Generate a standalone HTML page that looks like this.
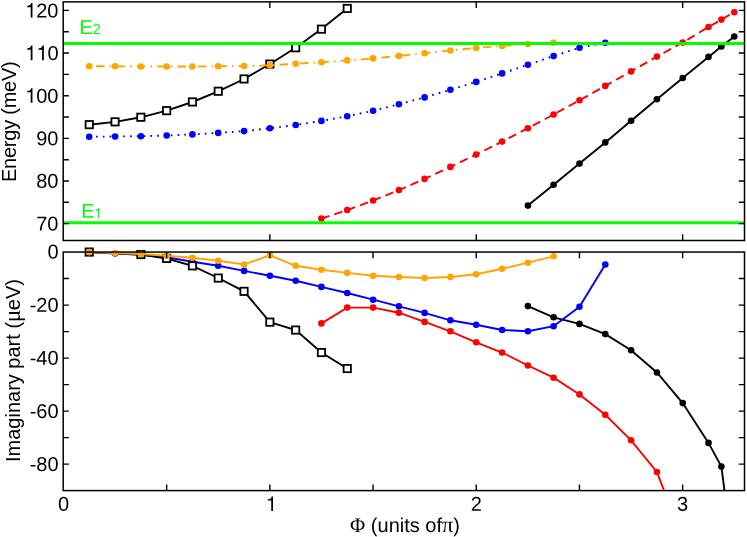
<!DOCTYPE html><html><head><meta charset="utf-8"><title>chart</title><style>html,body{margin:0;padding:0;background:#fff}svg{display:block;will-change:transform}text{font-family:"Liberation Sans",sans-serif;font-size:20px;fill:#000}.s{font-family:"Liberation Serif",serif}</style></head><body>
<svg width="747" height="537" viewBox="0 0 747 537">
<rect width="747" height="537" fill="#fff"/>
<defs><clipPath id="c1"><rect x="63.2" y="1.85" width="681.3" height="238.65"/></clipPath><clipPath id="c2"><rect x="63.2" y="252.05" width="681.3" height="238.55"/></clipPath></defs>
<g>
<polyline points="527.9,205.6 553.6,184.7 579.5,163.6 605.3,142.4 631.1,120.7 656.9,99.2 682.7,78.0 708.5,56.9 721.4,46.4 734.3,36.5" fill="none" stroke="#000" stroke-width="1.9" clip-path="url(#c1)"/>
<circle cx="527.9" cy="205.6" r="3.3" fill="#000"/><circle cx="553.6" cy="184.7" r="3.3" fill="#000"/><circle cx="579.5" cy="163.6" r="3.3" fill="#000"/><circle cx="605.3" cy="142.4" r="3.3" fill="#000"/><circle cx="631.1" cy="120.7" r="3.3" fill="#000"/><circle cx="656.9" cy="99.2" r="3.3" fill="#000"/><circle cx="682.7" cy="78.0" r="3.3" fill="#000"/><circle cx="708.5" cy="56.9" r="3.3" fill="#000"/><circle cx="721.4" cy="46.4" r="3.3" fill="#000"/><circle cx="734.3" cy="36.5" r="3.3" fill="#000"/>
<polyline points="321.4,218.6 347.2,210.0 373.1,200.5 398.9,190.1 424.6,178.9 450.4,166.9 476.2,154.6 502.1,141.6 527.9,128.2 553.6,114.5 579.5,100.3 605.3,85.9 631.1,71.4 656.9,56.6 682.7,42.6 708.5,27.0 721.4,19.6 734.3,12.2" fill="none" stroke="#ff0000" stroke-width="1.9" stroke-dasharray="8.5 5.1" clip-path="url(#c1)"/>
<circle cx="321.4" cy="218.6" r="3.3" fill="#ff0000"/><circle cx="347.2" cy="210.0" r="3.3" fill="#ff0000"/><circle cx="373.1" cy="200.5" r="3.3" fill="#ff0000"/><circle cx="398.9" cy="190.1" r="3.3" fill="#ff0000"/><circle cx="424.6" cy="178.9" r="3.3" fill="#ff0000"/><circle cx="450.4" cy="166.9" r="3.3" fill="#ff0000"/><circle cx="476.2" cy="154.6" r="3.3" fill="#ff0000"/><circle cx="502.1" cy="141.6" r="3.3" fill="#ff0000"/><circle cx="527.9" cy="128.2" r="3.3" fill="#ff0000"/><circle cx="553.6" cy="114.5" r="3.3" fill="#ff0000"/><circle cx="579.5" cy="100.3" r="3.3" fill="#ff0000"/><circle cx="605.3" cy="85.9" r="3.3" fill="#ff0000"/><circle cx="631.1" cy="71.4" r="3.3" fill="#ff0000"/><circle cx="656.9" cy="56.6" r="3.3" fill="#ff0000"/><circle cx="682.7" cy="42.6" r="3.3" fill="#ff0000"/><circle cx="708.5" cy="27.0" r="3.3" fill="#ff0000"/><circle cx="721.4" cy="19.6" r="3.3" fill="#ff0000"/><circle cx="734.3" cy="12.2" r="3.3" fill="#ff0000"/>
<polyline points="89.2,136.7 115.1,136.5 140.9,136.2 166.7,135.5 192.4,134.4 218.2,132.9 244.1,131.1 269.9,128.3 295.7,125.0 321.4,120.9 347.2,116.3 373.1,110.7 398.9,104.3 424.6,97.4 450.4,89.8 476.2,81.9 502.1,73.4 527.9,64.8 553.6,56.1 579.5,47.7 605.3,42.8" fill="none" stroke="#0000ff" stroke-width="1.9" stroke-dasharray="1.7 5.1" clip-path="url(#c1)"/>
<circle cx="89.2" cy="136.7" r="3.3" fill="#0000ff"/><circle cx="115.1" cy="136.5" r="3.3" fill="#0000ff"/><circle cx="140.9" cy="136.2" r="3.3" fill="#0000ff"/><circle cx="166.7" cy="135.5" r="3.3" fill="#0000ff"/><circle cx="192.4" cy="134.4" r="3.3" fill="#0000ff"/><circle cx="218.2" cy="132.9" r="3.3" fill="#0000ff"/><circle cx="244.1" cy="131.1" r="3.3" fill="#0000ff"/><circle cx="269.9" cy="128.3" r="3.3" fill="#0000ff"/><circle cx="295.7" cy="125.0" r="3.3" fill="#0000ff"/><circle cx="321.4" cy="120.9" r="3.3" fill="#0000ff"/><circle cx="347.2" cy="116.3" r="3.3" fill="#0000ff"/><circle cx="373.1" cy="110.7" r="3.3" fill="#0000ff"/><circle cx="398.9" cy="104.3" r="3.3" fill="#0000ff"/><circle cx="424.6" cy="97.4" r="3.3" fill="#0000ff"/><circle cx="450.4" cy="89.8" r="3.3" fill="#0000ff"/><circle cx="476.2" cy="81.9" r="3.3" fill="#0000ff"/><circle cx="502.1" cy="73.4" r="3.3" fill="#0000ff"/><circle cx="527.9" cy="64.8" r="3.3" fill="#0000ff"/><circle cx="553.6" cy="56.1" r="3.3" fill="#0000ff"/><circle cx="579.5" cy="47.7" r="3.3" fill="#0000ff"/><circle cx="605.3" cy="42.8" r="3.3" fill="#0000ff"/>
<polyline points="89.2,124.7 115.1,121.9 140.9,117.3 166.7,110.7 192.4,102.0 218.2,91.3 244.1,79.0 269.9,64.0 295.7,47.7 321.4,29.1 347.2,8.4" fill="none" stroke="#000" stroke-width="1.9" clip-path="url(#c1)"/>
<rect x="85.6" y="121.0" width="7.3" height="7.3" fill="#fff" stroke="#000" stroke-width="1.8"/><rect x="111.4" y="118.2" width="7.3" height="7.3" fill="#fff" stroke="#000" stroke-width="1.8"/><rect x="137.2" y="113.6" width="7.3" height="7.3" fill="#fff" stroke="#000" stroke-width="1.8"/><rect x="163.0" y="107.0" width="7.3" height="7.3" fill="#fff" stroke="#000" stroke-width="1.8"/><rect x="188.8" y="98.3" width="7.3" height="7.3" fill="#fff" stroke="#000" stroke-width="1.8"/><rect x="214.6" y="87.6" width="7.3" height="7.3" fill="#fff" stroke="#000" stroke-width="1.8"/><rect x="240.4" y="75.3" width="7.3" height="7.3" fill="#fff" stroke="#000" stroke-width="1.8"/><rect x="266.2" y="60.4" width="7.3" height="7.3" fill="#fff" stroke="#000" stroke-width="1.8"/><rect x="292.0" y="44.1" width="7.3" height="7.3" fill="#fff" stroke="#000" stroke-width="1.8"/><rect x="317.8" y="25.5" width="7.3" height="7.3" fill="#fff" stroke="#000" stroke-width="1.8"/><rect x="343.6" y="4.8" width="7.3" height="7.3" fill="#fff" stroke="#000" stroke-width="1.8"/>
<polyline points="89.2,66.3 115.1,66.3 140.9,66.5 166.7,66.5 192.4,66.5 218.2,66.3 244.1,66.0 269.9,65.3 295.7,63.8 321.4,62.2 347.2,60.4 373.1,58.4 398.9,55.9 424.6,53.3 450.4,50.5 476.2,47.9 502.1,45.9 527.9,44.1 553.6,42.8" fill="none" stroke="#ffa500" stroke-width="1.9" stroke-dasharray="8.5 5.1 1.7 5.1" stroke-dashoffset="13.6" clip-path="url(#c1)"/>
<circle cx="89.2" cy="66.3" r="3.3" fill="#ffa500"/><circle cx="115.1" cy="66.3" r="3.3" fill="#ffa500"/><circle cx="140.9" cy="66.5" r="3.3" fill="#ffa500"/><circle cx="166.7" cy="66.5" r="3.3" fill="#ffa500"/><circle cx="192.4" cy="66.5" r="3.3" fill="#ffa500"/><circle cx="218.2" cy="66.3" r="3.3" fill="#ffa500"/><circle cx="244.1" cy="66.0" r="3.3" fill="#ffa500"/><circle cx="269.9" cy="65.3" r="3.3" fill="#ffa500"/><circle cx="295.7" cy="63.8" r="3.3" fill="#ffa500"/><circle cx="321.4" cy="62.2" r="3.3" fill="#ffa500"/><circle cx="347.2" cy="60.4" r="3.3" fill="#ffa500"/><circle cx="373.1" cy="58.4" r="3.3" fill="#ffa500"/><circle cx="398.9" cy="55.9" r="3.3" fill="#ffa500"/><circle cx="424.6" cy="53.3" r="3.3" fill="#ffa500"/><circle cx="450.4" cy="50.5" r="3.3" fill="#ffa500"/><circle cx="476.2" cy="47.9" r="3.3" fill="#ffa500"/><circle cx="502.1" cy="45.9" r="3.3" fill="#ffa500"/><circle cx="527.9" cy="44.1" r="3.3" fill="#ffa500"/><circle cx="553.6" cy="42.8" r="3.3" fill="#ffa500"/>
<line x1="63.2" x2="744.5" y1="43.4" y2="43.4" stroke="#00ff00" stroke-width="3"/>
<line x1="63.2" x2="744.5" y1="222.65" y2="222.65" stroke="#00ff00" stroke-width="3"/>
</g>
<g>
<polyline points="527.9,306.1 553.6,317.3 579.5,323.9 605.3,334.1 631.1,350.2 656.9,372.5 682.7,403.1 708.5,442.9 721.4,466.6 734.3,567.0" fill="none" stroke="#000" stroke-width="1.9" clip-path="url(#c2)"/>
<circle cx="527.9" cy="306.1" r="3.3" fill="#000"/><circle cx="553.6" cy="317.3" r="3.3" fill="#000"/><circle cx="579.5" cy="323.9" r="3.3" fill="#000"/><circle cx="605.3" cy="334.1" r="3.3" fill="#000"/><circle cx="631.1" cy="350.2" r="3.3" fill="#000"/><circle cx="656.9" cy="372.5" r="3.3" fill="#000"/><circle cx="682.7" cy="403.1" r="3.3" fill="#000"/><circle cx="708.5" cy="442.9" r="3.3" fill="#000"/><circle cx="721.4" cy="466.6" r="3.3" fill="#000"/>
<polyline points="321.4,323.4 347.2,307.6 373.1,307.6 398.9,312.7 424.6,321.9 450.4,331.3 476.2,342.3 502.1,352.5 527.9,365.5 553.6,377.7 579.5,394.4 605.3,414.8 631.1,440.3 656.9,472.0 682.7,539.0" fill="none" stroke="#ff0000" stroke-width="1.9" clip-path="url(#c2)"/>
<circle cx="321.4" cy="323.4" r="3.3" fill="#ff0000"/><circle cx="347.2" cy="307.6" r="3.3" fill="#ff0000"/><circle cx="373.1" cy="307.6" r="3.3" fill="#ff0000"/><circle cx="398.9" cy="312.7" r="3.3" fill="#ff0000"/><circle cx="424.6" cy="321.9" r="3.3" fill="#ff0000"/><circle cx="450.4" cy="331.3" r="3.3" fill="#ff0000"/><circle cx="476.2" cy="342.3" r="3.3" fill="#ff0000"/><circle cx="502.1" cy="352.5" r="3.3" fill="#ff0000"/><circle cx="527.9" cy="365.5" r="3.3" fill="#ff0000"/><circle cx="553.6" cy="377.7" r="3.3" fill="#ff0000"/><circle cx="579.5" cy="394.4" r="3.3" fill="#ff0000"/><circle cx="605.3" cy="414.8" r="3.3" fill="#ff0000"/><circle cx="631.1" cy="440.3" r="3.3" fill="#ff0000"/><circle cx="656.9" cy="472.0" r="3.3" fill="#ff0000"/>
<polyline points="89.2,252.1 115.1,253.5 140.9,254.8 166.7,257.3 192.4,261.7 218.2,265.8 244.1,270.9 269.9,275.7 295.7,280.8 321.4,286.9 347.2,293.0 373.1,299.7 398.9,306.3 424.6,312.9 450.4,320.3 476.2,324.7 502.1,330.0 527.9,331.3 553.6,326.2 579.5,306.8 605.3,264.5" fill="none" stroke="#0000ff" stroke-width="1.9" clip-path="url(#c2)"/>
<circle cx="89.2" cy="252.1" r="3.3" fill="#0000ff"/><circle cx="115.1" cy="253.5" r="3.3" fill="#0000ff"/><circle cx="140.9" cy="254.8" r="3.3" fill="#0000ff"/><circle cx="166.7" cy="257.3" r="3.3" fill="#0000ff"/><circle cx="192.4" cy="261.7" r="3.3" fill="#0000ff"/><circle cx="218.2" cy="265.8" r="3.3" fill="#0000ff"/><circle cx="244.1" cy="270.9" r="3.3" fill="#0000ff"/><circle cx="269.9" cy="275.7" r="3.3" fill="#0000ff"/><circle cx="295.7" cy="280.8" r="3.3" fill="#0000ff"/><circle cx="321.4" cy="286.9" r="3.3" fill="#0000ff"/><circle cx="347.2" cy="293.0" r="3.3" fill="#0000ff"/><circle cx="373.1" cy="299.7" r="3.3" fill="#0000ff"/><circle cx="398.9" cy="306.3" r="3.3" fill="#0000ff"/><circle cx="424.6" cy="312.9" r="3.3" fill="#0000ff"/><circle cx="450.4" cy="320.3" r="3.3" fill="#0000ff"/><circle cx="476.2" cy="324.7" r="3.3" fill="#0000ff"/><circle cx="502.1" cy="330.0" r="3.3" fill="#0000ff"/><circle cx="527.9" cy="331.3" r="3.3" fill="#0000ff"/><circle cx="553.6" cy="326.2" r="3.3" fill="#0000ff"/><circle cx="579.5" cy="306.8" r="3.3" fill="#0000ff"/><circle cx="605.3" cy="264.5" r="3.3" fill="#0000ff"/>
<polyline points="89.2,252.1 140.9,254.6 166.7,258.5 192.4,265.9 218.2,278.0 244.1,291.3 269.9,322.1 295.7,330.0 321.4,352.5 347.2,368.5" fill="none" stroke="#000" stroke-width="1.9" clip-path="url(#c2)"/>
<rect x="85.6" y="248.4" width="7.3" height="7.3" fill="#fff" stroke="#000" stroke-width="1.8"/><rect x="137.2" y="250.9" width="7.3" height="7.3" fill="#fff" stroke="#000" stroke-width="1.8"/><rect x="163.0" y="254.8" width="7.3" height="7.3" fill="#fff" stroke="#000" stroke-width="1.8"/><rect x="188.8" y="262.2" width="7.3" height="7.3" fill="#fff" stroke="#000" stroke-width="1.8"/><rect x="214.6" y="274.4" width="7.3" height="7.3" fill="#fff" stroke="#000" stroke-width="1.8"/><rect x="240.4" y="287.7" width="7.3" height="7.3" fill="#fff" stroke="#000" stroke-width="1.8"/><rect x="266.2" y="318.5" width="7.3" height="7.3" fill="#fff" stroke="#000" stroke-width="1.8"/><rect x="292.0" y="326.4" width="7.3" height="7.3" fill="#fff" stroke="#000" stroke-width="1.8"/><rect x="317.8" y="348.9" width="7.3" height="7.3" fill="#fff" stroke="#000" stroke-width="1.8"/><rect x="343.6" y="364.9" width="7.3" height="7.3" fill="#fff" stroke="#000" stroke-width="1.8"/>
<polyline points="89.2,252.1 115.1,253.0 140.9,254.0 166.7,255.7 192.4,257.7 218.2,260.7 244.1,264.5 269.9,255.3 295.7,265.8 321.4,269.8 347.2,272.9 373.1,275.7 398.9,277.0 424.6,278.0 450.4,277.0 476.2,274.2 502.1,268.8 527.9,262.7 553.6,256.3" fill="none" stroke="#ffa500" stroke-width="1.9" clip-path="url(#c2)"/>
<circle cx="89.2" cy="252.1" r="3.3" fill="#ffa500"/><circle cx="115.1" cy="253.0" r="3.3" fill="#ffa500"/><circle cx="140.9" cy="254.0" r="3.3" fill="#ffa500"/><circle cx="166.7" cy="255.7" r="3.3" fill="#ffa500"/><circle cx="192.4" cy="257.7" r="3.3" fill="#ffa500"/><circle cx="218.2" cy="260.7" r="3.3" fill="#ffa500"/><circle cx="244.1" cy="264.5" r="3.3" fill="#ffa500"/><circle cx="269.9" cy="255.3" r="3.3" fill="#ffa500"/><circle cx="295.7" cy="265.8" r="3.3" fill="#ffa500"/><circle cx="321.4" cy="269.8" r="3.3" fill="#ffa500"/><circle cx="347.2" cy="272.9" r="3.3" fill="#ffa500"/><circle cx="373.1" cy="275.7" r="3.3" fill="#ffa500"/><circle cx="398.9" cy="277.0" r="3.3" fill="#ffa500"/><circle cx="424.6" cy="278.0" r="3.3" fill="#ffa500"/><circle cx="450.4" cy="277.0" r="3.3" fill="#ffa500"/><circle cx="476.2" cy="274.2" r="3.3" fill="#ffa500"/><circle cx="502.1" cy="268.8" r="3.3" fill="#ffa500"/><circle cx="527.9" cy="262.7" r="3.3" fill="#ffa500"/><circle cx="553.6" cy="256.3" r="3.3" fill="#ffa500"/>
</g>
<rect x="63.2" y="1.85" width="681.3" height="238.65" fill="none" stroke="#000" stroke-width="1.5"/>
<rect x="63.2" y="252.05" width="681.3" height="238.55" fill="none" stroke="#000" stroke-width="1.5"/>
<path d="M166.65 252.05v6.2M166.65 490.6v-6.2M269.85 1.85v6.2M269.85 240.5v-6.2M269.85 252.05v6.2M269.85 490.6v-6.2M373.05 252.05v6.2M373.05 490.6v-6.2M476.25 1.85v6.2M476.25 240.5v-6.2M476.25 252.05v6.2M476.25 490.6v-6.2M579.45 252.05v6.2M579.45 490.6v-6.2M682.65 1.85v6.2M682.65 240.5v-6.2M682.65 252.05v6.2M682.65 490.6v-6.2M63.2 10.40h5.7M744.5 10.40h-5.7M63.2 31.73h5.7M744.5 31.73h-5.7M63.2 53.05h5.7M744.5 53.05h-5.7M63.2 74.38h5.7M744.5 74.38h-5.7M63.2 95.70h5.7M744.5 95.70h-5.7M63.2 117.03h5.7M744.5 117.03h-5.7M63.2 138.35h5.7M744.5 138.35h-5.7M63.2 159.68h5.7M744.5 159.68h-5.7M63.2 181.00h5.7M744.5 181.00h-5.7M63.2 202.32h5.7M744.5 202.32h-5.7M63.2 223.65h5.7M744.5 223.65h-5.7M63.2 278.56h5.7M744.5 278.56h-5.7M63.2 305.08h5.7M744.5 305.08h-5.7M63.2 331.60h5.7M744.5 331.60h-5.7M63.2 358.11h5.7M744.5 358.11h-5.7M63.2 384.62h5.7M744.5 384.62h-5.7M63.2 411.14h5.7M744.5 411.14h-5.7M63.2 437.66h5.7M744.5 437.66h-5.7M63.2 464.17h5.7M744.5 464.17h-5.7" stroke="#000" stroke-width="1.4" fill="none"/>
<text x="58.50" y="17.55" transform="rotate(0.03 58.50 17.55)" text-anchor="end" font-size="20.5">20</text><path d="M359 0V-709H292C280 -640 236 -572 101 -566V-505H273V0Z" transform="translate(25.11,17.55) scale(0.0205)" fill="#000"/>
<text x="58.50" y="60.13" transform="rotate(0.03 58.50 60.13)" text-anchor="end" font-size="20.5">0</text><path d="M359 0V-709H292C280 -640 236 -572 101 -566V-505H273V0Z" transform="translate(36.50,60.13) scale(0.0205)" fill="#000"/><path d="M359 0V-709H292C280 -640 236 -572 101 -566V-505H273V0Z" transform="translate(25.11,60.13) scale(0.0205)" fill="#000"/>
<text x="58.50" y="102.71" transform="rotate(0.03 58.50 102.71)" text-anchor="end" font-size="20.5">00</text><path d="M359 0V-709H292C280 -640 236 -572 101 -566V-505H273V0Z" transform="translate(25.11,102.71) scale(0.0205)" fill="#000"/>
<text x="58.50" y="145.29" transform="rotate(0.03 58.50 145.29)" text-anchor="end" font-size="20.5">90</text>
<text x="58.50" y="187.87" transform="rotate(0.03 58.50 187.87)" text-anchor="end" font-size="20.5">80</text>
<text x="58.50" y="230.45" transform="rotate(0.03 58.50 230.45)" text-anchor="end" font-size="20.5">70</text>
<text x="58.60" y="258.55" transform="rotate(0.03 58.60 258.55)" text-anchor="end" font-size="20.5">0</text>
<text x="58.60" y="311.68" transform="rotate(0.03 58.60 311.68)" text-anchor="end" font-size="20.5">-20</text>
<text x="58.60" y="364.81" transform="rotate(0.03 58.60 364.81)" text-anchor="end" font-size="20.5">-40</text>
<text x="58.60" y="417.94" transform="rotate(0.03 58.60 417.94)" text-anchor="end" font-size="20.5">-60</text>
<text x="58.60" y="471.07" transform="rotate(0.03 58.60 471.07)" text-anchor="end" font-size="20.5">-80</text>
<text x="63.45" y="510.8" transform="rotate(0.03 63.45 510.8)" text-anchor="middle" font-size="20.6">0</text>
<path d="M359 0V-709H292C280 -640 236 -572 101 -566V-505H273V0Z" transform="translate(265.62,511.00) scale(0.0206)" fill="#000"/>
<text x="476.25" y="510.8" transform="rotate(0.03 476.25 510.8)" text-anchor="middle" font-size="20.6">2</text>
<text x="682.65" y="510.8" transform="rotate(0.03 682.65 510.8)" text-anchor="middle" font-size="20.6">3</text>
<text transform="translate(15.5,182.0) rotate(-90)" textLength="120.8" lengthAdjust="spacing">Energy (meV)</text>
<text transform="translate(20.2,462.0) rotate(-90)">Imaginary part (<tspan class="s" font-size="23.5" dx="-0.3">μ</tspan><tspan dx="-0.6">eV)</tspan></text>
<text x="350.1" y="531.9" transform="rotate(0.03 350.1 531.9)"><tspan class="s" font-size="20.8">Φ</tspan> (units of<tspan class="s" font-size="22.5">π</tspan>)</text>
<text x="79.5" y="34" transform="rotate(0.03 79.5 34)" fill="#00ff00" style="fill:#00ff00">E<tspan font-size="14.5">2</tspan></text>
<text x="81.2" y="217.7" transform="rotate(0.03 81.2 217.7)" fill="#00ff00" style="fill:#00ff00">E</text>
<path d="M359 0V-709H292C280 -640 236 -572 101 -566V-505H273V0Z" transform="translate(94.20,217.90) scale(0.0143)" fill="#00ff00"/>
</svg></body></html>
